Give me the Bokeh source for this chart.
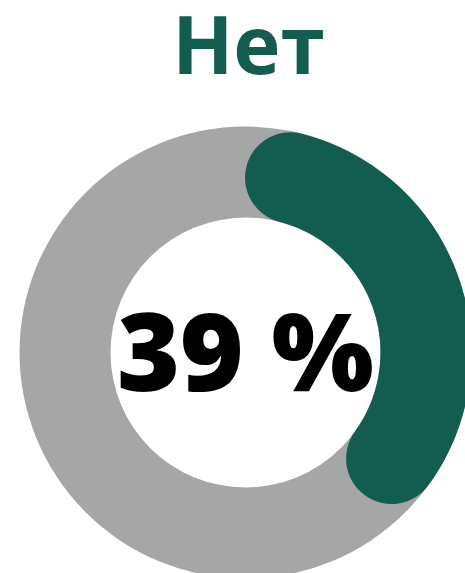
import math
from bokeh.plotting import figure
from bokeh.models import Range1d
from bokeh.core.properties import value
from bokeh.embed import file_html
from bokeh.resources import INLINE

# data
categories = ["Нет"]
values = [39]
total = [100]

GREEN = "#135c50"
GREY = "#a6a6a6"

W, H = 465, 573
p = figure(width=W, height=H, output_backend="svg", toolbar_location=None,
           x_axis_location=None, y_axis_location=None, min_border=0,
           x_range=Range1d(0, W), y_range=Range1d(0, H))
p.outline_line_color = None
p.xgrid.visible = False
p.ygrid.visible = False
p.background_fill_color = "white"
p.border_fill_color = "white"

cx, cy = 245, H - 352
r_out, r_in = 226, 135
r_mid = (r_out + r_in) / 2
lw = r_out - r_in

p.annulus(x=[cx], y=[cy], inner_radius=r_in, outer_radius=r_out,
          fill_color=GREY, line_color=None)

frac = values[0] / total[0]
cap = (lw / 2) / r_mid
start = math.pi / 2 - cap
end = math.pi / 2 - frac * 2 * math.pi + cap
p.arc(x=[cx], y=[cy], radius=r_mid, start_angle=start, end_angle=end,
      direction="clock", line_color=GREEN, line_width=lw, line_cap="round")

p.text(x=[248], y=[H - 42], text=[categories[0]], text_font=value("Open Sans"),
       text_font_style="bold", text_font_size="80px", text_color=GREEN,
       text_align="center", text_baseline="middle")

p.text(x=[245], y=[H - 349], text=[f"{values[0]} %"],
       text_font=value("'Open Sans ExtraBold', 'Open Sans'"),
       text_font_style="bold", text_font_size="108px", text_color="black",
       text_align="center", text_baseline="middle")

open("out.html", "w").write(file_html(p, INLINE))
